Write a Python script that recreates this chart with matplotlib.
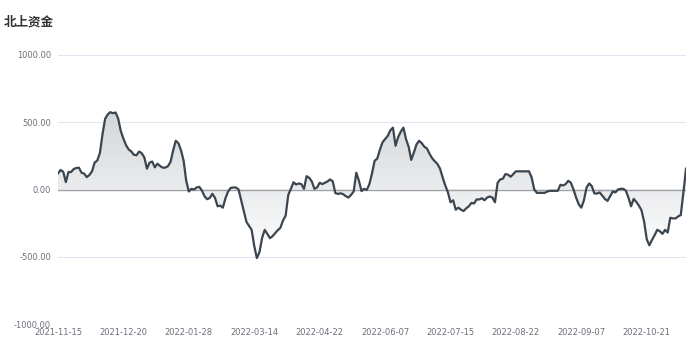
import numpy as np
import matplotlib
matplotlib.use("Agg")
import matplotlib.pyplot as plt
from matplotlib.colors import LinearSegmentedColormap

# 北上资金 daily series
values = [
    120, 145, 132, 55, 130, 130, 152, 160, 162, 125,
    118, 92, 108, 135, 200, 215, 270, 410, 525, 558,
    575, 567, 573, 527, 435, 378, 330, 298, 283, 258,
    255, 282, 270, 238, 155, 200, 208, 165, 192, 175,
    162, 163, 173, 205, 290, 362, 345, 292, 215, 65,
    -15, 5, 0, 15, 20, -8, -50, -72, -63, -32,
    -62, -125, -120, -135, -65, -15, 12, 15, 15, 0,
    -80, -160, -240, -270, -300, -420, -510, -465, -360, -300,
    -330, -362, -347, -325, -302, -285, -230, -195, -40, 5,
    54, 37, 45, 40, 5, 99, 87, 60, 5, 15,
    50, 40, 50, 60, 75, 60, -27, -33, -28, -35,
    -50, -60, -40, -15, 125, 65, -12, 5, -3, 40,
    120, 213, 230, 295, 350, 375, 398, 440, 460, 325,
    390, 430, 460, 375, 318, 220, 275, 335, 362, 345,
    318, 305, 265, 232, 210, 190, 155, 90, 30, -20,
    -95, -80, -150, -135, -150, -160, -140, -125, -100, -104,
    -74, -74, -65, -80, -60, -52, -60, -95, 50, 75,
    80, 115, 110, 95, 115, 135, 135, 135, 135, 135,
    135, 90, 0, -25, -25, -25, -25, -15, -10, -10,
    -10, -10, 35, 30, 40, 65, 50, 0, -60, -110,
    -135, -80, 15, 45, 25, -30, -30, -22, -45, -70,
    -85, -50, -15, -22, 0, 5, 5, -8, -60, -125,
    -70, -92, -120, -155, -240, -370, -415, -375, -340, -300,
    -310, -330, -300, -320, -210, -215, -215, -200, -190, -25,
    155,
]
date_labels = ["2021-11-15", "2021-12-20", "2022-01-28", "2022-03-14", "2022-04-22",
               "2022-06-07", "2022-07-15", "2022-08-22", "2022-09-07", "2022-10-21"]
label_step = 25
y_ticks = [-1000, -500, 0, 500, 1000]

x = np.arange(len(values))
y = np.array(values, dtype=float)

fig = plt.figure(figsize=(7, 3.5), dpi=100)
ax = fig.add_axes([58 / 700, 26 / 350, 628 / 700, 269 / 350])

# grid + zero axis line
for t in y_ticks:
    if t == 0:
        continue
    ax.axhline(t, color="#e0e6f1", lw=0.8, zorder=0)
ax.axhline(0, color="#9fa1a6", lw=1.0, zorder=2)

# gradient area under the line
fill = ax.fill_between(x, y, 0, color="none", lw=0)
cmap = LinearSegmentedColormap.from_list("g", ["#ffffff", "#d4d6d9"])
grad = np.linspace(0, 1, 256).reshape(-1, 1)
im = ax.imshow(grad, cmap=cmap, aspect="auto", origin="lower",
               extent=[x[0], x[-1], y.min(), y.max()], zorder=1)
im.set_clip_path(fill.get_paths()[0], transform=ax.transData)

ax.plot(x, y, color="#3b4550", lw=1.6, zorder=3, solid_joinstyle="round")

ax.set_xlim(x[0], x[-1])
ax.set_ylim(-1000, 1000)
ax.set_yticks(y_ticks)
ax.set_yticklabels([f"{t:.2f}" for t in y_ticks])
ax.set_xticks(x[::label_step][:len(date_labels)])
ax.set_xticklabels(date_labels)
ax.tick_params(axis="both", length=0, labelsize=6, labelcolor="#6e7079")
ax.tick_params(axis="y", pad=5)
ax.tick_params(axis="x", pad=3)
for s in ax.spines.values():
    s.set_visible(False)

fig.text(4 / 700, 1 - 22 / 350, "北上资金", fontsize=9, fontweight="bold",
         color="#333333", va="center", ha="left",
         family=["Noto Sans CJK SC", "DejaVu Sans"])

fig.savefig("out.png", dpi=100)
